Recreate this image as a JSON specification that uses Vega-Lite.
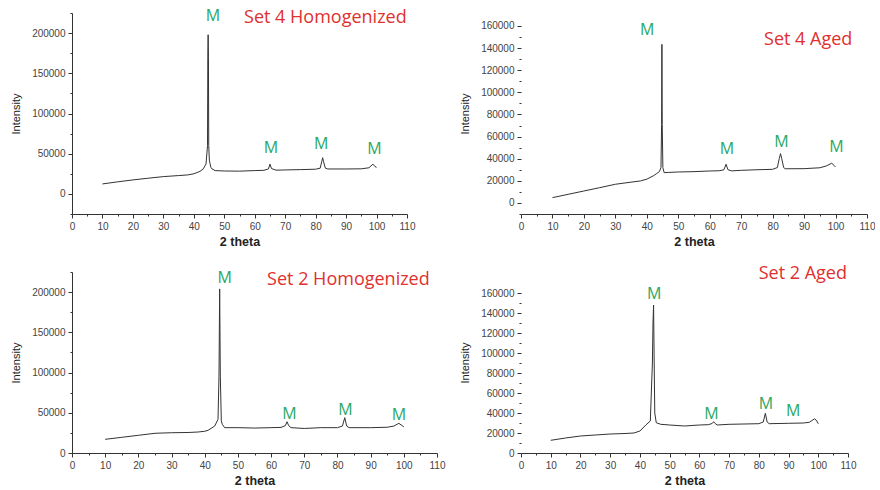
{
  "$schema": "https://vega.github.io/schema/vega-lite/v6.json",
  "background": "white",
  "padding": {"left": 10, "top": 8, "right": 0, "bottom": 0},
  "config": {
    "view": {"stroke": null},
    "axis": {"grid": false, "domainColor": "#333", "tickColor": "#333", "tickSize": 4, "labelPadding": 3, "labelColor": "#444", "labelFont": "Liberation Sans", "labelFontSize": 10, "titleFont": "Liberation Sans", "titleColor": "#222", "labelFlush": false, "labelOverlap": false},
    "axisX": {"titleFontWeight": "bold", "titleFontSize": 12.5, "titlePadding": 4},
    "axisY": {"titleFontWeight": "normal", "titleFontSize": 11, "titlePadding": 10}
  },
  "datasets": {
    "s4h": [
      {"t":10,"i":12400},{"t":15,"i":15000},{"t":20,"i":17400},{"t":25,"i":19500},{"t":30,"i":21500},{"t":35,"i":22800},{"t":38,"i":23600},{"t":40,"i":25000},{"t":41,"i":26500},{"t":42,"i":28000},{"t":43,"i":30700},{"t":44,"i":37000},{"t":44.5,"i":60000},{"t":44.6,"i":170000},{"t":44.7,"i":198000},{"t":44.8,"i":170000},{"t":44.9,"i":60000},{"t":45.1,"i":42000},{"t":45.3,"i":38000},{"t":45.6,"i":33000},{"t":46,"i":31000},{"t":47,"i":29000},{"t":50,"i":28500},{"t":55,"i":28300},{"t":60,"i":29000},{"t":63,"i":29300},{"t":64.5,"i":31000},{"t":65,"i":37000},{"t":65.5,"i":31500},{"t":67,"i":29500},{"t":70,"i":29800},{"t":75,"i":30200},{"t":80,"i":30700},{"t":81.5,"i":32000},{"t":82,"i":40000},{"t":82.3,"i":45000},{"t":82.6,"i":40000},{"t":83.2,"i":32000},{"t":84,"i":31000},{"t":90,"i":31000},{"t":95,"i":31200},{"t":97.5,"i":32500},{"t":98.8,"i":37000},{"t":99.5,"i":34000},{"t":100,"i":33000}
    ],
    "s4a": [
      {"t":10,"i":4800},{"t":15,"i":7800},{"t":20,"i":10800},{"t":25,"i":13800},{"t":30,"i":16900},{"t":35,"i":18800},{"t":38,"i":19900},{"t":40,"i":21500},{"t":42,"i":24400},{"t":43,"i":26300},{"t":44,"i":28300},{"t":44.5,"i":32000},{"t":44.7,"i":71000},{"t":44.8,"i":143400},{"t":44.9,"i":71000},{"t":45.1,"i":32000},{"t":45.5,"i":27400},{"t":47,"i":27600},{"t":50,"i":28000},{"t":55,"i":28300},{"t":60,"i":28900},{"t":63,"i":29100},{"t":64.5,"i":30000},{"t":65.2,"i":35000},{"t":65.8,"i":30000},{"t":67,"i":29000},{"t":70,"i":29500},{"t":75,"i":30000},{"t":80,"i":30400},{"t":81.5,"i":32000},{"t":82.1,"i":40000},{"t":82.5,"i":44600},{"t":82.9,"i":40000},{"t":83.5,"i":32000},{"t":84,"i":30900},{"t":90,"i":31000},{"t":95,"i":31800},{"t":97,"i":33400},{"t":98.8,"i":35900},{"t":99.5,"i":34000},{"t":100,"i":32500}
    ],
    "s2h": [
      {"t":10,"i":17000},{"t":15,"i":19500},{"t":20,"i":22000},{"t":25,"i":24500},{"t":30,"i":25200},{"t":35,"i":25500},{"t":38,"i":26100},{"t":40,"i":27000},{"t":41,"i":28200},{"t":43,"i":33500},{"t":44,"i":41800},{"t":44.3,"i":95600},{"t":44.5,"i":204000},{"t":44.7,"i":95600},{"t":45,"i":40000},{"t":45.3,"i":35600},{"t":46,"i":31500},{"t":50,"i":31500},{"t":55,"i":31000},{"t":60,"i":31500},{"t":63,"i":31800},{"t":64.3,"i":34000},{"t":64.8,"i":38900},{"t":65.3,"i":34000},{"t":66,"i":31500},{"t":70,"i":30500},{"t":75,"i":31500},{"t":80,"i":31500},{"t":81.5,"i":33500},{"t":82.2,"i":43900},{"t":82.8,"i":33500},{"t":83.5,"i":31500},{"t":90,"i":31500},{"t":95,"i":32000},{"t":97,"i":33500},{"t":98.5,"i":36900},{"t":99.5,"i":34000},{"t":100,"i":32500}
    ],
    "s2a": [
      {"t":10,"i":12700},{"t":15,"i":15000},{"t":20,"i":17000},{"t":25,"i":18000},{"t":30,"i":19000},{"t":35,"i":19500},{"t":38,"i":20000},{"t":40,"i":22000},{"t":42,"i":28000},{"t":43.5,"i":32000},{"t":44.2,"i":90000},{"t":44.4,"i":130000},{"t":44.6,"i":148000},{"t":44.8,"i":90000},{"t":45,"i":40000},{"t":45.5,"i":30300},{"t":47,"i":28700},{"t":50,"i":28000},{"t":55,"i":27000},{"t":60,"i":28000},{"t":63,"i":28300},{"t":64.3,"i":29500},{"t":64.8,"i":31300},{"t":65.3,"i":29500},{"t":66,"i":28000},{"t":70,"i":28700},{"t":75,"i":29000},{"t":80,"i":29300},{"t":81.5,"i":31000},{"t":82.2,"i":39700},{"t":82.8,"i":31000},{"t":83.5,"i":29300},{"t":90,"i":29700},{"t":95,"i":30000},{"t":97,"i":30700},{"t":98.8,"i":34300},{"t":99.5,"i":32000},{"t":100,"i":29300}
    ],
    "m4h": [{"t":46.3,"i":221000,"label":"M"},{"t":65.3,"i":57500,"label":"M"},{"t":81.8,"i":61700,"label":"M"},{"t":99.3,"i":55500,"label":"M"}],
    "m4a": [{"t":40.1,"i":156100,"label":"M"},{"t":65.5,"i":48500,"label":"M"},{"t":82.8,"i":55400,"label":"M"},{"t":100.3,"i":50600,"label":"M"}],
    "m2h": [{"t":46.0,"i":217000,"label":"M"},{"t":65.5,"i":48900,"label":"M"},{"t":82.4,"i":53000,"label":"M"},{"t":98.5,"i":46800,"label":"M"}],
    "m2a": [{"t":44.8,"i":158700,"label":"M"},{"t":64.1,"i":39300,"label":"M"},{"t":82.4,"i":49300,"label":"M"},{"t":91.6,"i":42000,"label":"M"}],
    "t4h": [{"t":83.2,"i":219000,"label":"Set 4 Homogenized"}],
    "t4a": [{"t":91.3,"i":147000,"label":"Set 4 Aged"}],
    "t2h": [{"t":83.3,"i":214500,"label":"Set 2 Homogenized"}],
    "t2a": [{"t":94.8,"i":178700,"label":"Set 2 Aged"}]
  },
  "columns": 2,
  "spacing": {"row": 58, "column": 84},
  "bounds": "flush",
  "concat": [
    {
      "width": 335, "height": 201,
      "encoding": {
        "x": {"field": "t", "type": "quantitative", "scale": {"domain": [0, 110], "nice": false},
              "axis": {"title": "2 theta", "values": [0,5,10,15,20,25,30,35,40,45,50,55,60,65,70,75,80,85,90,95,100,105,110], "labelExpr": "datum.value % 10 === 0 ? datum.label : ''", "tickSize": {"condition": {"test": "datum.value % 10 === 0", "value": 4}, "value": 2}}},
        "y": {"field": "i", "type": "quantitative", "scale": {"domain": [-25000, 225000], "nice": false, "zero": false},
              "axis": {"title": "Intensity", "format": "d", "values": [-25000,0,25000,50000,75000,100000,125000,150000,175000,200000,225000], "labelExpr": "datum.value % 50000 === 0 && datum.value >= 0 ? datum.label : ''", "tickSize": {"condition": {"test": "datum.value % 50000 === 0", "value": 4}, "value": 2}}}
      },
      "layer": [
        {"data": {"name": "s4h"}, "mark": {"type": "line", "color": "#333", "strokeWidth": 1}},
        {"data": {"name": "m4h"}, "mark": {"type": "text", "color": "#2aa866", "font": "Open Sans", "fontSize": 16, "baseline": "middle"}, "encoding": {"text": {"field": "label"}}},
        {"data": {"name": "t4h"}, "mark": {"type": "text", "color": "#e0302f", "font": "Open Sans", "fontSize": 18, "baseline": "middle"}, "encoding": {"text": {"field": "label"}}}
      ]
    },
    {
      "width": 346, "height": 201,
      "encoding": {
        "x": {"field": "t", "type": "quantitative", "scale": {"domain": [0, 110], "nice": false},
              "axis": {"title": "2 theta", "values": [0,5,10,15,20,25,30,35,40,45,50,55,60,65,70,75,80,85,90,95,100,105,110], "labelExpr": "datum.value % 10 === 0 ? datum.label : ''", "tickSize": {"condition": {"test": "datum.value % 10 === 0", "value": 4}, "value": 2}}},
        "y": {"field": "i", "type": "quantitative", "scale": {"domain": [-10000, 171755], "nice": false, "zero": false},
              "axis": {"title": "Intensity", "format": "d", "domain": false, "values": [-10000,0,10000,20000,30000,40000,50000,60000,70000,80000,90000,100000,110000,120000,130000,140000,150000,160000], "labelExpr": "datum.value % 20000 === 0 && datum.value >= 0 ? datum.label : ''", "tickSize": {"condition": {"test": "datum.value % 20000 === 0", "value": 4}, "value": 2}}}
      },
      "layer": [
        {"data": {"name": "s4a"}, "mark": {"type": "line", "color": "#333", "strokeWidth": 1}},
        {"data": {"values": [{"a": 0}]}, "mark": {"type": "rule", "color": "#333"},
         "encoding": {"x": {"datum": 0, "type": "quantitative"}, "y": {"datum": -10000, "type": "quantitative"}, "y2": {"datum": 160000}}},
        {"data": {"name": "m4a"}, "mark": {"type": "text", "color": "#2aa866", "font": "Open Sans", "fontSize": 16, "baseline": "middle"}, "encoding": {"text": {"field": "label"}}},
        {"data": {"name": "t4a"}, "mark": {"type": "text", "color": "#e0302f", "font": "Open Sans", "fontSize": 18, "baseline": "middle"}, "encoding": {"text": {"field": "label"}}}
      ]
    },
    {
      "width": 365, "height": 181,
      "encoding": {
        "x": {"field": "t", "type": "quantitative", "scale": {"domain": [0, 110], "nice": false},
              "axis": {"title": "2 theta", "values": [0,5,10,15,20,25,30,35,40,45,50,55,60,65,70,75,80,85,90,95,100,105,110], "labelExpr": "datum.value % 10 === 0 ? datum.label : ''", "tickSize": {"condition": {"test": "datum.value % 10 === 0", "value": 4}, "value": 2}}},
        "y": {"field": "i", "type": "quantitative", "scale": {"domain": [0, 225000], "nice": false, "zero": false},
              "axis": {"title": "Intensity", "format": "d", "values": [0,25000,50000,75000,100000,125000,150000,175000,200000,225000], "labelExpr": "datum.value % 50000 === 0 ? datum.label : ''", "tickSize": {"condition": {"test": "datum.value % 50000 === 0", "value": 4}, "value": 2}}}
      },
      "layer": [
        {"data": {"name": "s2h"}, "mark": {"type": "line", "color": "#333", "strokeWidth": 1}},
        {"data": {"name": "m2h"}, "mark": {"type": "text", "color": "#2aa866", "font": "Open Sans", "fontSize": 16, "baseline": "middle"}, "encoding": {"text": {"field": "label"}}},
        {"data": {"name": "t2h"}, "mark": {"type": "text", "color": "#e0302f", "font": "Open Sans", "fontSize": 18, "baseline": "middle"}, "encoding": {"text": {"field": "label"}}}
      ]
    },
    {
      "width": 327, "height": 181,
      "encoding": {
        "x": {"field": "t", "type": "quantitative", "scale": {"domain": [0, 110], "nice": false},
              "axis": {"title": "2 theta", "values": [0,5,10,15,20,25,30,35,40,45,50,55,60,65,70,75,80,85,90,95,100,105,110], "labelExpr": "datum.value % 10 === 0 ? datum.label : ''", "tickSize": {"condition": {"test": "datum.value % 10 === 0", "value": 4}, "value": 2}}},
        "y": {"field": "i", "type": "quantitative", "scale": {"domain": [0, 181000], "nice": false, "zero": false},
              "axis": {"title": "Intensity", "format": "d", "domain": false, "values": [0,10000,20000,30000,40000,50000,60000,70000,80000,90000,100000,110000,120000,130000,140000,150000,160000], "labelExpr": "datum.value % 20000 === 0 ? datum.label : ''", "tickSize": {"condition": {"test": "datum.value % 20000 === 0", "value": 4}, "value": 2}}}
      },
      "layer": [
        {"data": {"name": "s2a"}, "mark": {"type": "line", "color": "#333", "strokeWidth": 1}},
        {"data": {"values": [{"a": 0}]}, "mark": {"type": "rule", "color": "#333"},
         "encoding": {"x": {"datum": 0, "type": "quantitative"}, "y": {"datum": 0, "type": "quantitative"}, "y2": {"datum": 160000}}},
        {"data": {"name": "m2a"}, "mark": {"type": "text", "color": "#2aa866", "font": "Open Sans", "fontSize": 16, "baseline": "middle"}, "encoding": {"text": {"field": "label"}}},
        {"data": {"name": "t2a"}, "mark": {"type": "text", "color": "#e0302f", "font": "Open Sans", "fontSize": 18, "baseline": "middle"}, "encoding": {"text": {"field": "label"}}}
      ]
    }
  ]
}
